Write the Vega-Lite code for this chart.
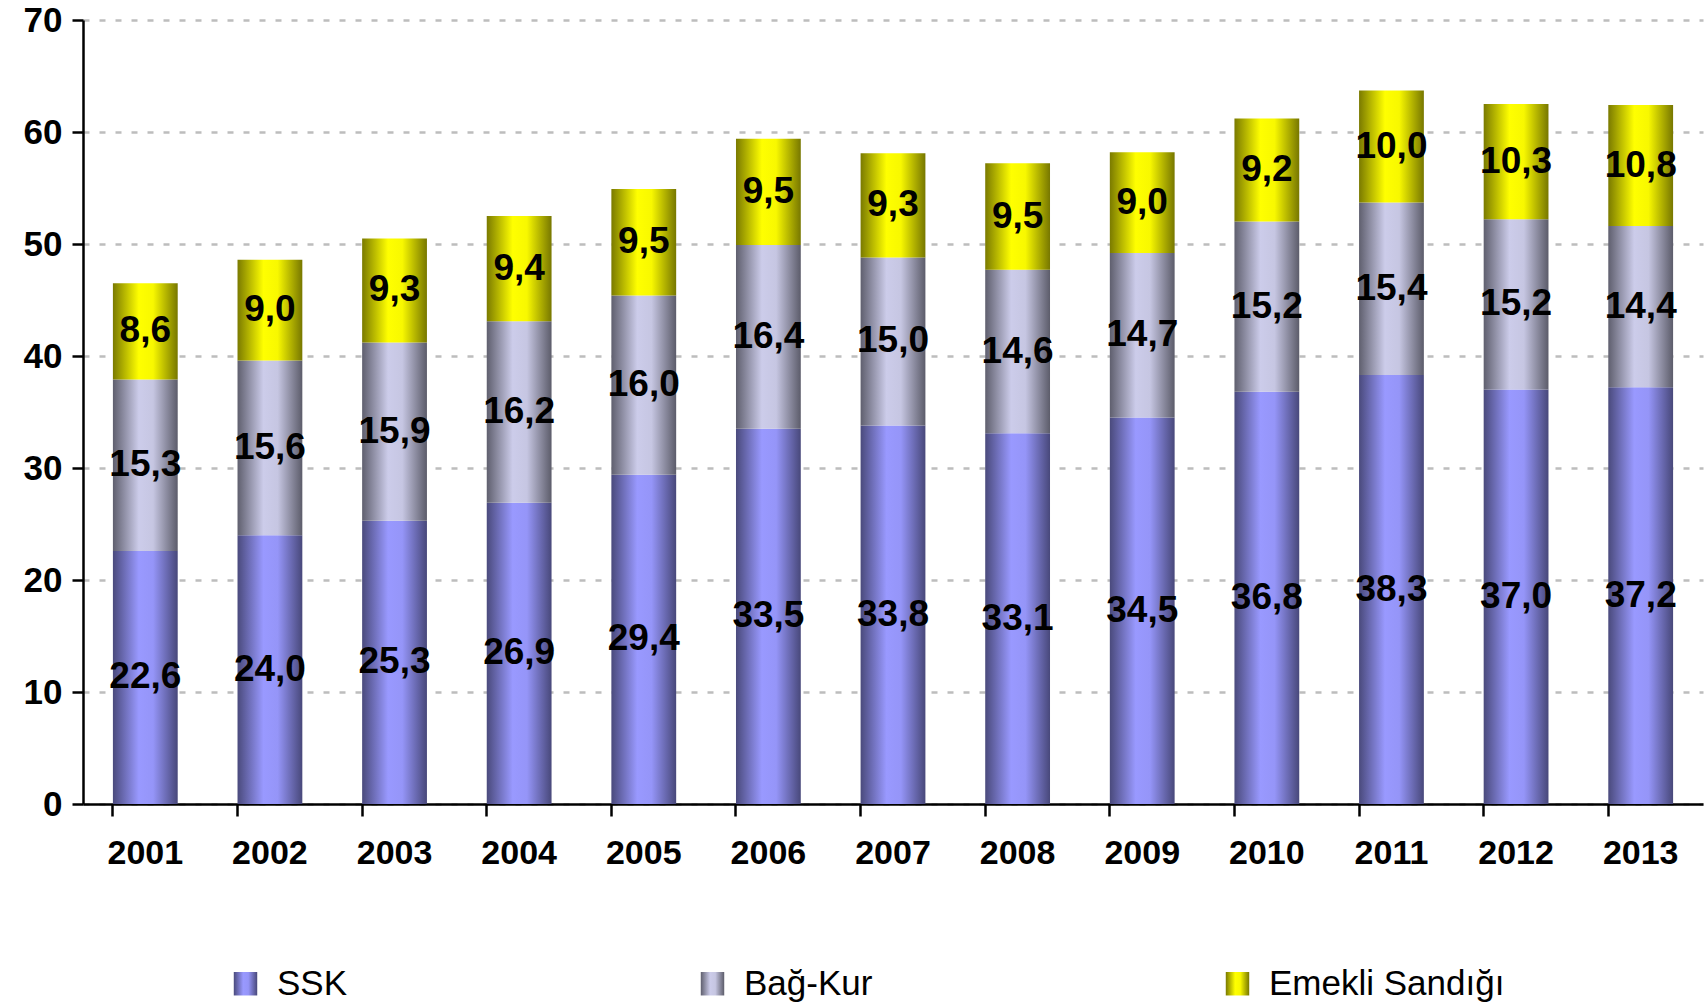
{
  "$schema": "https://vega.github.io/schema/vega-lite/v6.json",
  "width": 1620,
  "height": 784,
  "autosize": {"type": "none"},
  "padding": {"left": 83, "top": 20, "right": 3, "bottom": 203},
  "background": "white",
  "config": {
    "locale": {"number": {"decimal": ",", "thousands": ".", "grouping": [3], "currency": ["", ""]}},
    "view": {"stroke": null},
    "font": "Liberation Sans"
  },
  "data": {
    "values": [
      {"year": "2001", "series": "SSK", "k": 1, "value": 22.6},
      {"year": "2001", "series": "Bağ-Kur", "k": 2, "value": 15.3},
      {"year": "2001", "series": "Emekli Sandığı", "k": 3, "value": 8.6},
      {"year": "2002", "series": "SSK", "k": 1, "value": 24.0},
      {"year": "2002", "series": "Bağ-Kur", "k": 2, "value": 15.6},
      {"year": "2002", "series": "Emekli Sandığı", "k": 3, "value": 9.0},
      {"year": "2003", "series": "SSK", "k": 1, "value": 25.3},
      {"year": "2003", "series": "Bağ-Kur", "k": 2, "value": 15.9},
      {"year": "2003", "series": "Emekli Sandığı", "k": 3, "value": 9.3},
      {"year": "2004", "series": "SSK", "k": 1, "value": 26.9},
      {"year": "2004", "series": "Bağ-Kur", "k": 2, "value": 16.2},
      {"year": "2004", "series": "Emekli Sandığı", "k": 3, "value": 9.4},
      {"year": "2005", "series": "SSK", "k": 1, "value": 29.4},
      {"year": "2005", "series": "Bağ-Kur", "k": 2, "value": 16.0},
      {"year": "2005", "series": "Emekli Sandığı", "k": 3, "value": 9.5},
      {"year": "2006", "series": "SSK", "k": 1, "value": 33.5},
      {"year": "2006", "series": "Bağ-Kur", "k": 2, "value": 16.4},
      {"year": "2006", "series": "Emekli Sandığı", "k": 3, "value": 9.5},
      {"year": "2007", "series": "SSK", "k": 1, "value": 33.8},
      {"year": "2007", "series": "Bağ-Kur", "k": 2, "value": 15.0},
      {"year": "2007", "series": "Emekli Sandığı", "k": 3, "value": 9.3},
      {"year": "2008", "series": "SSK", "k": 1, "value": 33.1},
      {"year": "2008", "series": "Bağ-Kur", "k": 2, "value": 14.6},
      {"year": "2008", "series": "Emekli Sandığı", "k": 3, "value": 9.5},
      {"year": "2009", "series": "SSK", "k": 1, "value": 34.5},
      {"year": "2009", "series": "Bağ-Kur", "k": 2, "value": 14.7},
      {"year": "2009", "series": "Emekli Sandığı", "k": 3, "value": 9.0},
      {"year": "2010", "series": "SSK", "k": 1, "value": 36.8},
      {"year": "2010", "series": "Bağ-Kur", "k": 2, "value": 15.2},
      {"year": "2010", "series": "Emekli Sandığı", "k": 3, "value": 9.2},
      {"year": "2011", "series": "SSK", "k": 1, "value": 38.3},
      {"year": "2011", "series": "Bağ-Kur", "k": 2, "value": 15.4},
      {"year": "2011", "series": "Emekli Sandığı", "k": 3, "value": 10.0},
      {"year": "2012", "series": "SSK", "k": 1, "value": 37.0},
      {"year": "2012", "series": "Bağ-Kur", "k": 2, "value": 15.2},
      {"year": "2012", "series": "Emekli Sandığı", "k": 3, "value": 10.3},
      {"year": "2013", "series": "SSK", "k": 1, "value": 37.2},
      {"year": "2013", "series": "Bağ-Kur", "k": 2, "value": 14.4},
      {"year": "2013", "series": "Emekli Sandığı", "k": 3, "value": 10.8}
    ]
  },
  "encoding": {
    "x": {
      "field": "year",
      "type": "ordinal",
      "scale": {"paddingInner": 0.48, "paddingOuter": 0.24},
      "axis": {
        "title": null,
        "labelAngle": 0,
        "labelFont": "Liberation Sans",
        "labelFontSize": 34,
        "labelFontWeight": "bold",
        "labelColor": "black",
        "labelPadding": 20,
        "bandPosition": 0,
        "tickSize": 12,
        "tickWidth": 2.5,
        "tickColor": "black",
        "domainColor": "black",
        "domainWidth": 2.5,
        "grid": false
      }
    },
    "y": {
      "field": "value",
      "type": "quantitative",
      "stack": "zero",
      "scale": {"domain": [0, 70], "nice": false},
      "axis": {
        "title": null,
        "values": [0, 10, 20, 30, 40, 50, 60, 70],
        "format": "d",
        "labelFont": "Liberation Sans",
        "labelFontSize": 35,
        "labelFontWeight": "bold",
        "labelColor": "black",
        "labelPadding": 10,
        "tickSize": 11,
        "tickWidth": 2.5,
        "tickColor": "black",
        "domainColor": "black",
        "domainWidth": 2.5,
        "grid": true,
        "gridColor": "#bdbdbd",
        "gridWidth": 2.5,
        "gridDash": [6, 10]
      }
    },
    "order": {"field": "k", "type": "quantitative", "sort": "ascending"}
  },
  "layer": [
    {
      "mark": {"type": "bar"},
      "encoding": {
        "color": {
          "field": "series",
          "type": "nominal",
          "scale": {
            "domain": ["SSK", "Bağ-Kur", "Emekli Sandığı"],
            "range": [
              {"expr": "{gradient: 'linear', x1: 0, y1: 0, x2: 1, y2: 0, stops: [{offset: 0, color: '#4a4a7c'}, {offset: 0.4, color: '#9999ff'}, {offset: 0.62, color: '#9595f8'}, {offset: 1, color: '#48487a'}]}"},
              {"expr": "{gradient: 'linear', x1: 0, y1: 0, x2: 1, y2: 0, stops: [{offset: 0, color: '#5f5f6e'}, {offset: 0.4, color: '#ccccea'}, {offset: 0.62, color: '#c6c6e2'}, {offset: 1, color: '#5c5c6a'}]}"},
              {"expr": "{gradient: 'linear', x1: 0, y1: 0, x2: 1, y2: 0, stops: [{offset: 0, color: '#7a7a00'}, {offset: 0.4, color: '#ffff00'}, {offset: 0.62, color: '#f8f800'}, {offset: 1, color: '#777700'}]}"}
            ]
          },
          "legend": {
            "title": null,
            "orient": "none",
            "legendX": 145,
            "legendY": 946,
            "direction": "horizontal",
            "columns": 3,
            "columnPadding": 347,
            "padding": 0,
            "symbolType": "square",
            "symbolSize": 550,
            "symbolStrokeWidth": 0,
            "symbolOpacity": 1,
            "labelFont": "Liberation Sans",
            "labelFontSize": 35,
            "labelColor": "black",
            "labelOffset": 14,
            "labelLimit": 400
          }
        }
      }
    },
    {
      "mark": {"type": "text", "font": "Liberation Sans", "fontSize": 37, "fontWeight": "bold", "color": "black", "baseline": "middle", "align": "center"},
      "encoding": {
        "y": {"field": "value", "type": "quantitative", "stack": "zero", "bandPosition": 0.5},
        "text": {"field": "value", "type": "quantitative", "format": ".1f"}
      }
    }
  ]
}
